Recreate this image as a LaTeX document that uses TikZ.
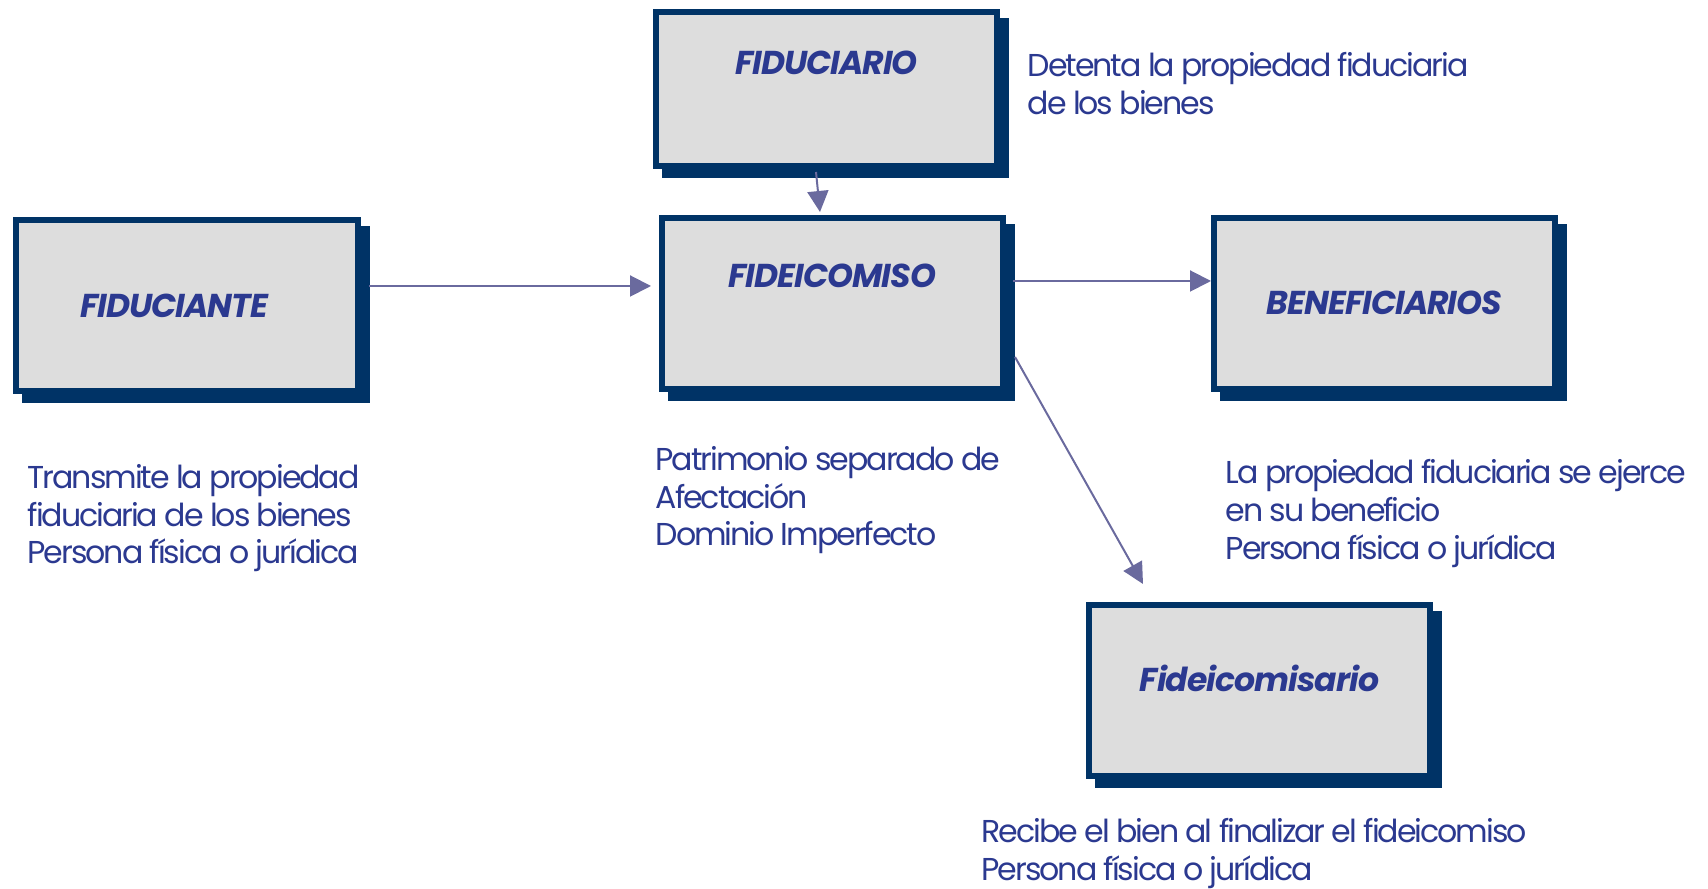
\documentclass[tikz,border=0pt]{standalone}
\usepackage{fontspec}
\setmainfont{Poppins}[LetterSpace=-6.5]
\newfontfamily\boxtitlefont{Poppins}[LetterSpace=-3]
\usetikzlibrary{shadows,arrows.meta}

\definecolor{boxnavy}{HTML}{003366}
\definecolor{boxgray}{HTML}{DDDDDD}
\definecolor{textblue}{HTML}{2B3990}
\definecolor{arrowblue}{HTML}{6A6A9E}

\tikzset{
  rolebox/.style={draw=boxnavy, line width=0.06cm, fill=boxgray,
    minimum width=3.41cm, minimum height=1.71cm, inner sep=0pt,
    text height=0.23cm, text depth=0cm, text=textblue,
    font=\boxtitlefont\fontsize{9.4}{11}\selectfont\bfseries\itshape,
    drop shadow={shadow xshift=0.09cm, shadow yshift=-0.09cm, opacity=1,
      fill=boxnavy, draw=boxnavy, line width=0.06cm}},
  notetext/.style={anchor=north west, inner sep=0pt, align=left, text=textblue,
    font=\fontsize{9.0}{10.7}\selectfont},
  link/.style={draw=arrowblue, line width=0.02cm,
    -{Triangle[length=0.21cm,width=0.21cm]}}
}

\begin{document}
\begin{tikzpicture}
\useasboundingbox (0,0) rectangle (17.08,8.89);

% boxes
\node [rolebox, minimum height=1.54cm, text depth=0.52cm] (fiduciario) at (8.265,8.00) {FIDUCIARIO};
\node [rolebox, text depth=0.55cm] (fideicomiso) at (8.325,5.855) {FIDEICOMISO};
\node [rolebox, minimum width=3.42cm] (fiduciante) at (1.87,5.83) {FIDUCIANTE\kern0.26cm};
\node [rolebox] (beneficiarios) at (13.845,5.855) {BENEFICIARIOS};
\node [rolebox, text depth=0.2cm] (fideicomisario) at (12.595,1.985) {Fideicomisario};

% arrows
\draw [link] ([xshift=0.08cm,yshift=0.2cm]fiduciante.east) -- ([xshift=-0.08cm,yshift=0.175cm]fideicomiso.west);
\draw [link] ([xshift=-0.105cm,yshift=-0.03cm]fiduciario.south) -- ([xshift=-0.125cm,yshift=0.03cm]fideicomiso.north);
\draw [link] ([xshift=0.07cm,yshift=0.225cm]fideicomiso.east) -- ([yshift=0.225cm]beneficiarios.west);
\draw [link] ([xshift=0.09cm,yshift=-0.535cm]fideicomiso.east) -- ([xshift=-1.165cm,yshift=0.18cm]fideicomisario.north);

% texts
\node [notetext] (fiduciarionote) at (10.27,8.37) {Detenta la propiedad fiduciaria\\de los bienes};
\node [notetext] (fiduciantenote) at (0.27,4.25) {Transmite la propiedad\\fiduciaria de los bienes\\Persona física o jurídica};
\node [notetext] (fideicomisonote) at (6.55,4.43) {Patrimonio separado de\\Afectación\\Dominio Imperfecto};
\node [notetext] (beneficiariosnote) at (12.25,4.30) {La propiedad fiduciaria se ejerce\\en su beneficio\\Persona física o jurídica};
\node [notetext] (fideicomisarionote) at (9.81,0.71) {Recibe el bien al finalizar el fideicomiso\\Persona física o jurídica};
\end{tikzpicture}
\end{document}
